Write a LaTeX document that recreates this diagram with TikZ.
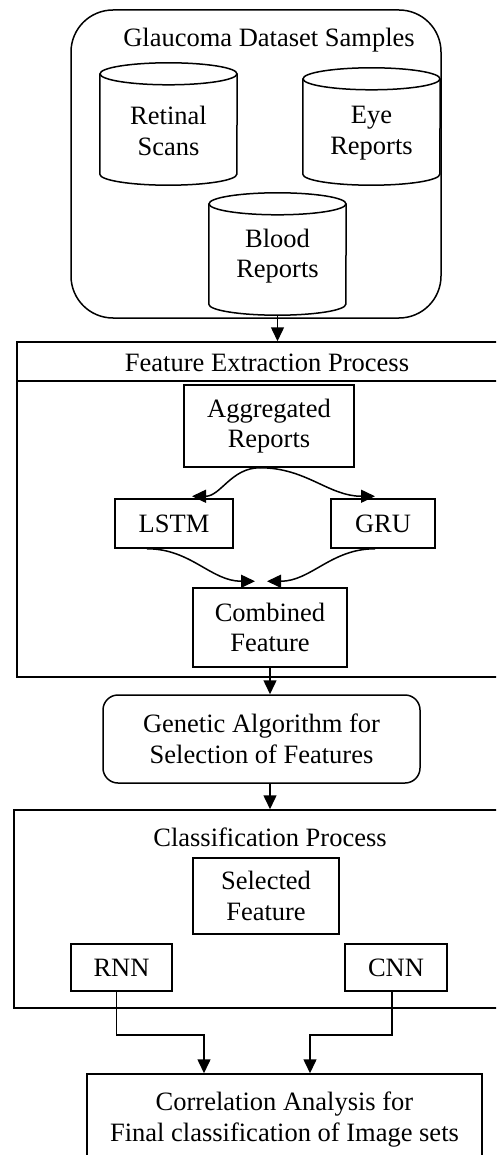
\documentclass[tikz,border=0pt]{standalone}
\usepackage{fontspec}
\setmainfont{Liberation Serif}
\usetikzlibrary{arrows.meta,calc}
\begin{document}
\begin{tikzpicture}[x=1pt,y=1pt,
  font=\fontsize{26.5}{30.5}\selectfont,
  box/.style={draw, line width=1.5pt, inner sep=0pt, align=center},
  frame/.style={draw, line width=1.5pt},
  arr/.style={line width=1.5pt, -{Triangle[length=14pt,width=13pt]}},
  lbl/.style={inner sep=0pt, align=center},
  cylbody/.style={inner sep=0pt, minimum width=137pt}
]
\useasboundingbox (0,0) rectangle (496,-1155);
\clip (0,0) rectangle (496,-1155);

% ---- dataset group ----
\node[box, rounded corners=42pt, minimum width=370pt, minimum height=308pt] (data) at (256,-164) {};
\node[lbl] (datatitle) at (269,-40) {Glaucoma Dataset Samples};

\node[cylbody, minimum height=122pt] (ret)   at (168.5,-124) {};
\node[cylbody, minimum height=117pt] (eye)   at (371.5,-126.5) {};
\node[cylbody, minimum height=122pt] (blood) at (277.5,-254) {};
\foreach \c in {ret,eye,blood}{
  \draw[frame] ([yshift=-11pt]\c.north) ellipse [x radius=68.5pt, y radius=11pt];
  \draw[frame] ([yshift=-11pt]\c.north west) -- ([yshift=11pt]\c.south west)
     arc[start angle=180, end angle=360, x radius=68.5pt, y radius=11pt]
     -- ([yshift=-11pt]\c.north east);
}
\node[lbl] (rettext)   at (168.5,-131) {Retinal\\Scans};
\node[lbl] (eyetext)   at (371.5,-133) {Eye\\Reports};
\node[lbl] (bloodtext) at (277.5,-256) {Blood\\Reports};

% ---- feature extraction ----
\node[box, minimum width=501pt, minimum height=335pt] (feat) at (267.5,-509.5) {};
\coordinate (sep) at (0,-381);
\draw[frame] (feat.west |- sep) -- (feat.east |- sep);
\node[lbl] (feattitle) at (267,-363) {Feature Extraction Process};

\node[box, minimum width=170pt, minimum height=82pt] (agg)  at (269,-426) {Aggregated\\Reports};
\node[box, minimum width=118pt, minimum height=49pt] (lstm) at (174,-523.5) {LSTM};
\node[box, minimum width=104pt, minimum height=49pt] (gru)  at (383,-523.5) {GRU};
\node[box, minimum width=154pt, minimum height=79pt] (comb) at (270,-627.5) {Combined\\Feature};

\draw[arr] ([xshift=-9pt]agg.south) to[out=180,in=0] ([xshift=18pt,yshift=2pt]lstm.north);
\draw[arr] ([xshift=-9pt]agg.south) to[out=0,in=180] ([xshift=-8pt,yshift=2pt]gru.north);
\draw[arr] ([xshift=-27pt]lstm.south) to[out=0,in=180] ([xshift=-15pt,yshift=6pt]comb.north);
\draw[arr] ([xshift=-8pt]gru.south) to[out=180,in=0] ([xshift=-3pt,yshift=6pt]comb.north);

% ---- genetic algorithm ----
\node[box, rounded corners=15pt, minimum width=317pt, minimum height=88pt] (gen) at (261.5,-739)
  {Genetic Algorithm for\\Selection of Features};

% ---- classification ----
\node[box, minimum width=512pt, minimum height=198pt] (cls) at (270,-909) {};
\node[lbl] (clstitle) at (270,-837) {Classification Process};
\node[box, minimum width=146pt, minimum height=76pt] (sel) at (266,-896) {Selected\\Feature};
\node[box, minimum width=101pt, minimum height=47pt] (rnn) at (121.5,-967.5) {RNN};
\node[box, minimum width=102pt, minimum height=47pt] (cnn) at (396,-967.5) {CNN};

\node[box, minimum width=395pt, minimum height=91pt] (final) at (284.5,-1119.5)
  {Correlation Analysis for\\Final classification of Image sets};

% ---- connectors ----
\draw[arr] (blood.south) -- (blood.south |- feat.north);
\draw[arr] (comb.south) -- (comb.south |- gen.north);
\draw[arr] (comb.south |- gen.south) -- (comb.south |- cls.north);
\draw[arr] ([xshift=-5pt]rnn.south) -- ++(0,-43) -| ([xshift=-80.5pt]final.north);
\draw[arr] ([xshift=-4pt]cnn.south) -- ++(0,-43) -| ([xshift=25.5pt]final.north);
\end{tikzpicture}
\end{document}
